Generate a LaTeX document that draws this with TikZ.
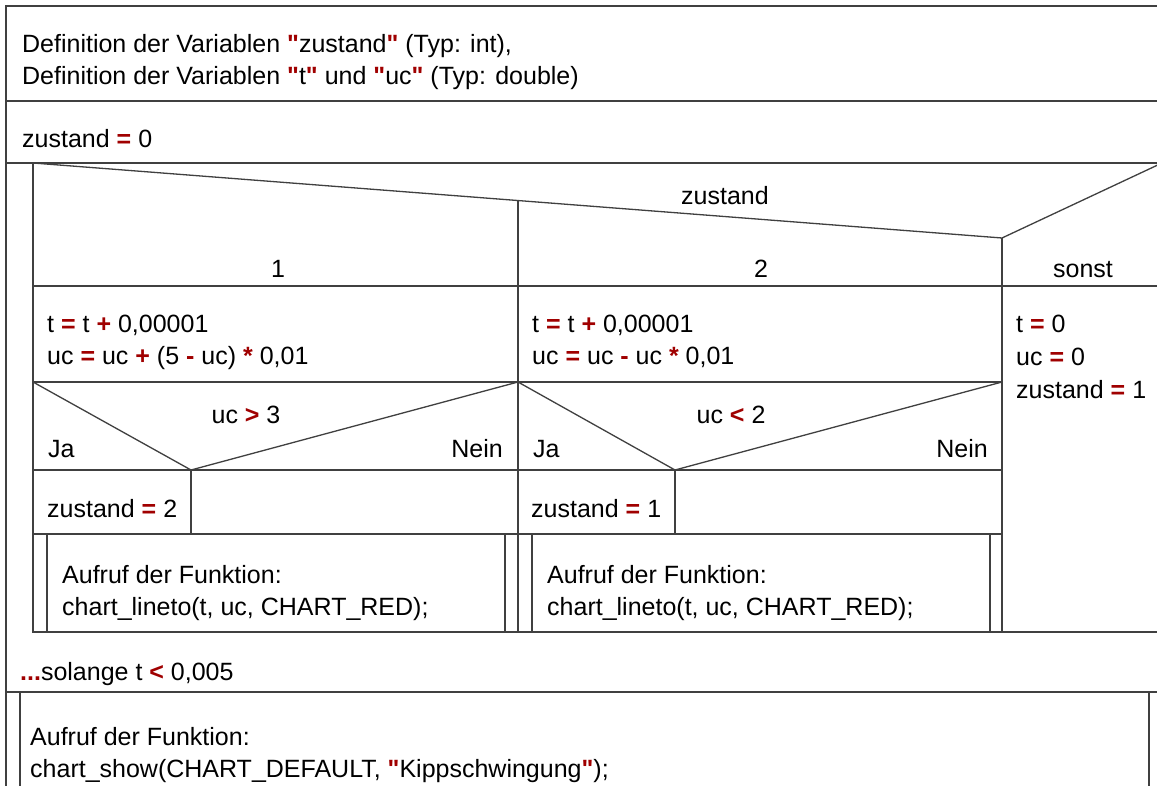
\documentclass[tikz,border=0pt]{standalone}
\usepackage{fontspec}
\setmainfont{Liberation Sans}
\definecolor{opred}{RGB}{160,0,0}
\newcommand{\op}[1]{\textcolor{opred}{\textbf{#1}}}
\newcommand{\qt}{\op{\textquotedbl}}
\tikzset{
  nsline/.style={line width=1.3pt, draw=black!75},
  txt/.style={anchor=base west, inner sep=0pt},
  ctxt/.style={anchor=base, inner sep=0pt},
  rtxt/.style={anchor=base east, inner sep=0pt}
}
\begin{document}
\begin{tikzpicture}[x=1pt,y=-1pt,font=\fontsize{25}{32}\selectfont]
\useasboundingbox (0,0) rectangle (1157,786);
\fill[white] (0,0) rectangle (1157,786);
\clip (0,0) rectangle (1157,786);
% frame and sequence
\draw[nsline] (1162,6)--(6,6)--(6,800);
\draw[nsline] (6,101)--(1162,101);
\draw[nsline] (6,163)--(1162,163);
% loop
\draw[nsline] (33,163)--(33,632)--(1162,632);
\draw[nsline] (6,692)--(1162,692);
% switch
\draw[nsline] (33,163)--(1002,238)--(1162,163);
\draw[nsline] (33,286)--(1162,286);
\draw[nsline] (518,200.5)--(518,632);
\draw[nsline] (1002,238)--(1002,632);
\draw[nsline] (33,382)--(1002,382);
% if blocks
\draw[nsline] (33,382)--(191,470)--(518,382);
\draw[nsline] (518,382)--(675,470)--(1002,382);
\draw[nsline] (33,470)--(1002,470);
\draw[nsline] (191,470)--(191,534) (675,470)--(675,534);
\draw[nsline] (33,534)--(1002,534);
% calls
\draw[nsline] (47,534)--(47,632) (505,534)--(505,632);
\draw[nsline] (532,534)--(532,632) (990,534)--(990,632);
\draw[nsline] (20,692)--(20,800) (1149,692)--(1149,800);

\node[txt] (def1) at (22,53) {Definition der Variablen \qt zustand\qt{} (Typ: int),};
\node[txt] (def2) at (22,85) {Definition der Variablen \qt t\qt{} und \qt uc\qt{} (Typ: double)};
\node[txt] (init) at (22,148) {zustand \op{=} 0};
\node[ctxt] (sel) at (725,205) {zustand};
\node[ctxt] (case1) at (278,278) {1};
\node[ctxt] (case2) at (761,278) {2};
\node[ctxt] (other) at (1083,278) {sonst};
% case 1
\node[txt] (c1a) at (47,333) {t \op{=} t \op{+} 0,00001};
\node[txt] (c1b) at (47,365) {uc \op{=} uc \op{+} (5 \op{-} uc) \op{*} 0,01};
\node[ctxt] (if1) at (246,423) {uc \op{>} 3};
\node[txt] (ja1) at (48,457) {Ja};
\node[rtxt] (nein1) at (503,457) {Nein};
\node[txt] (set2) at (47,517) {zustand \op{=} 2};
\node[txt] (call1a) at (62,583) {Aufruf der Funktion:};
\node[txt] (call1b) at (62,615) {chart\_lineto(t, uc, CHART\_RED);};
% case 2
\node[txt] (c2a) at (532,333) {t \op{=} t \op{+} 0,00001};
\node[txt] (c2b) at (532,365) {uc \op{=} uc \op{-} uc \op{*} 0,01};
\node[ctxt] (if2) at (731,423) {uc \op{<} 2};
\node[txt] (ja2) at (533,457) {Ja};
\node[rtxt] (nein2) at (988,457) {Nein};
\node[txt] (set1) at (531,517) {zustand \op{=} 1};
\node[txt] (call2a) at (547,583) {Aufruf der Funktion:};
\node[txt] (call2b) at (547,615) {chart\_lineto(t, uc, CHART\_RED);};
% sonst
\node[txt] (c3a) at (1016,333) {t \op{=} 0};
\node[txt] (c3b) at (1016,366) {uc \op{=} 0};
\node[txt] (c3c) at (1016,399) {zustand \op{=} 1};
% loop condition and final call
\node[txt] (cond) at (20,680) {\op{...}solange t \op{<} 0,005};
\node[txt] (show1) at (30,745) {Aufruf der Funktion:};
\node[txt] (show2) at (30,777) {chart\_show(CHART\_DEFAULT, \qt Kippschwingung\qt);};
\end{tikzpicture}
\end{document}
